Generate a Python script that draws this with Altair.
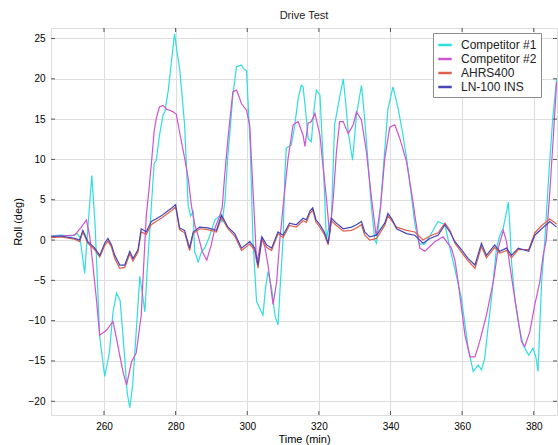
import altair as alt
import pandas as pd

# ---------------- data ----------------
t_c1 = [245, 248, 251, 252.5, 253.3, 254.6, 255.5, 256.6, 257.5, 258.8, 260.2, 261.5, 262.5, 263.5, 264.5,
        265.5, 266.5, 267.2, 268.0, 268.6, 269.5, 270.0, 270.7, 271.4, 272.3, 273.2, 274.0, 274.6, 275.5,
        276.5, 277.0, 277.9, 278.8, 279.7, 280.5, 281.1, 281.8, 282.5, 283.5, 284.2, 284.9, 285.3, 286.3,
        287.2, 288.1, 289.5, 291.0, 292.3, 293.0, 293.8, 294.5, 295.1, 296.0, 297.0, 298.4, 299.0, 299.8,
        300.8, 301.6, 302.6, 303.5, 304.4, 305.1, 305.8, 306.8, 307.8, 308.6, 309.3, 310.0, 310.5, 310.9,
        312.3, 313.2, 314.2, 315.1, 315.6, 316.3, 317.0, 317.9, 318.6, 319.3, 320.3, 321.2, 322.1, 322.5,
        323.5, 324.4, 325.5, 326.8, 327.5, 328.2, 329.4, 330.5, 331.9, 332.6, 333.3, 334.5, 335.6, 336.1,
        337.0, 338.2, 339.3, 340.7, 342.1, 343.3, 344.5, 345.7, 346.8, 348.0, 349.5, 351.0, 353.3, 355.2,
        356.6, 358.2, 359.8, 361.7, 363.1, 364.5, 365.4, 366.3, 367.2, 368.2, 369.6, 370.5, 371.5, 372.4,
        372.9, 373.3, 373.8, 374.7, 375.8, 377.0, 378.6, 379.8, 380.6, 381.2, 382.2, 383.1, 384.2, 385.3,
        386.4]
v_c1 = [0.5, 0.6, 0.5, 0.8, 0.3, -4.1, 1.5, 8.0, 2.0, -12.0, -16.9, -14.0, -9.0, -6.6, -7.5,
        -13.0, -19.0, -20.8, -18.0, -14.0, -8.0, -4.5, -6.5, -8.9, -2.0, 4.0, 9.5, 9.9, 13.0,
        15.5, 15.9, 18.4, 22.0, 25.6, 23.0, 21.3, 18.0, 14.3, 4.3, 3.0, 3.5, -1.4, -2.7,
        -1.5, -1.0, 0.5, 2.5, 3.0, 2.2, 5.0, 10.0, 13.0, 18.0, 21.5, 21.7, 21.2, 21.0,
        12.0, 0.0, -7.6, -8.5, -9.3, -6.0, -3.9, -6.0, -9.5, -10.5, -5.0, 0.0, 8.0, 11.4,
        11.8, 14.0, 17.5, 19.2, 19.0, 16.0, 12.6, 12.2, 16.0, 18.6, 18.0, 10.0, 0.0, 1.0,
        2.7, 14.3, 17.0, 20.0, 17.0, 13.4, 9.9, 15.5, 19.2, 16.0, 12.2, 5.0, 0.0, -0.4,
        3.0, 10.0, 16.3, 19.0, 16.4, 13.5, 10.1, 6.0, 2.0, -0.5, -0.5, 0.5, 2.3, 1.9,
        -1.0, -4.0, -7.2, -13.4, -16.3, -15.5, -16.1, -14.7, -11.0, -7.2, -1.0, 0.5, 1.5, 3.5,
        4.7, 2.0, -2.7, -7.2, -10.5, -13.0, -14.3, -13.4, -14.5, -16.3, -5.2, 0.0, 8.0, 15.0,
        20.0]

t_c2 = [245, 248, 251.8, 253.5, 255.1, 256.0, 256.9, 257.8, 258.8, 260.7, 262.5, 263.4, 264.4, 265.4,
        266.3, 267.7, 269.0, 270.4, 271.1, 271.8, 272.5, 273.2, 274.0, 274.6, 275.5, 276.5, 277.5, 278.4,
        279.3, 280.2, 281.1, 282.5, 283.5, 284.4, 285.3, 286.3, 287.5, 288.7, 290.0, 291.0, 292.3, 293.0,
        293.7, 294.4, 295.1, 296.0, 297.0, 297.7, 298.4, 299.8, 300.7, 301.4, 302.1, 302.6, 303.3, 304.0,
        305.0, 305.8, 306.5, 307.2, 308.2, 309.1, 310.2, 311.4, 312.8, 314.2, 315.6, 316.1, 317.0, 317.9,
        318.9, 320.3, 321.2, 322.1, 323.0, 324.0, 324.9, 325.8, 326.8, 328.2, 329.6, 330.5, 331.9, 333.3,
        334.7, 336.0, 337.2, 338.4, 339.8, 341.2, 342.6, 344.5, 346.3, 346.8, 348.2, 349.6, 351.0, 352.4,
        354.7, 357.0, 358.0, 358.9, 360.8, 362.2, 363.6, 364.9, 366.8, 368.7, 370.1, 371.5, 372.4, 373.3,
        374.7, 376.6, 377.5, 378.9, 380.3, 381.7, 382.6, 383.5, 384.5, 385.5, 386.4]
v_c2 = [0.5, 0.5, 0.6, 1.5, 2.5, 0.5, -3.1, -7.0, -11.8, -11.2, -10.1, -12.0, -14.3, -16.5,
        -18.0, -15.1, -14.0, -9.3, -3.0, 3.0, 6.0, 9.3, 13.5, 15.1, 16.5, 16.7, 16.2, 16.1,
        15.9, 15.6, 13.4, 10.2, 7.7, 4.3, 2.0, 0.5, -1.5, -2.5, -0.5, 1.5, 3.0, 4.0,
        8.0, 11.5, 14.7, 18.4, 18.6, 17.8, 16.9, 16.1, 14.2, 8.0, 2.0, -2.7, -1.5, 0.4,
        -1.0, -3.1, -5.5, -8.0, -5.2, 0.0, 5.0, 10.1, 14.3, 14.7, 13.0, 11.6, 14.5, 14.7,
        15.7, 13.0, 9.0, 5.2, 0.7, 5.0, 10.9, 14.7, 14.7, 13.2, 14.3, 15.9, 14.9, 10.9,
        5.2, 0.5, 4.0, 10.1, 14.0, 14.3, 12.6, 9.7, 4.7, 3.1, -1.0, -1.4, -0.8, -0.2,
        0.4, -1.0, -2.5, -5.2, -11.8, -14.5, -14.5, -12.6, -9.3, -5.2, -1.0, 1.2, -0.2, -3.1,
        -7.2, -12.6, -13.2, -11.4, -8.0, -5.2, -2.0, 0.0, 6.0, 13.0, 19.6]

t_ins = [245, 248, 251.8, 253.2, 254.1, 255.5, 256.5, 257.4, 258.8, 260.2, 261.1, 262.1, 263.0, 264.4,
         265.8, 267.2, 268.1, 269.5, 270.4, 271.8, 273.2, 274.5, 276.0, 277.5, 279.0, 280.0, 281.1, 282.5,
         283.9, 284.9, 286.7, 289.0, 291.4, 292.8, 294.6, 296.5, 298.4, 300.7, 302.1, 303.0, 304.1, 305.4,
         306.8, 308.6, 310.0, 311.8, 313.7, 315.6, 316.5, 317.5, 318.3, 319.2, 320.3, 321.5, 322.6, 323.5,
         324.9, 326.8, 329.1, 330.5, 331.9, 332.8, 334.2, 336.1, 338.4, 339.3, 340.5, 341.7, 344.5, 346.8,
         349.1, 351.0, 353.3, 355.2, 356.6, 358.0, 359.8, 361.7, 363.6, 365.4, 366.8, 369.1, 370.5, 372.4,
         373.8, 375.7, 378.6, 380.3, 382.2, 384.5, 386.4]
v_ln100 = [0.4, 0.5, 0.2, 0.0, 1.2, -0.2, -0.6, -1.0, -1.9, -0.4, 0.2, -0.6, -1.9, -3.1,
           -3.1, -1.4, -2.3, -1.2, 1.4, 1.0, 2.3, 2.6, 3.0, 3.5, 4.0, 4.4, 1.5, 1.2,
           -1.0, 1.0, 1.6, 1.5, 1.2, 3.1, 1.6, 0.8, -1.0, -0.2, -1.0, -3.1, 0.4, -0.6,
           -1.0, 1.0, 0.6, 2.1, 1.9, 2.7, 2.5, 3.6, 4.0, 2.5, 1.9, 1.0, -0.4, 2.7,
           2.1, 1.4, 1.6, 1.9, 2.3, 1.0, 0.4, 0.6, 2.1, 3.3, 2.5, 1.4, 0.8, 0.6,
           -0.4, 0.2, 0.6, 1.9, 1.0, -0.2, -1.2, -2.3, -3.1, -0.4, -1.9, -0.6, -1.4, -1.0,
           -1.9, -1.0, -1.4, 0.6, 1.4, 2.3, 1.6]
v_ahrs = [0.3, 0.4, 0.1, -0.2, 1.0, -0.4, -0.8, -1.2, -2.1, -0.7, -0.1, -0.9, -2.3, -3.5,
          -3.4, -1.7, -2.6, -1.5, 1.0, 0.7, 1.9, 2.3, 2.7, 3.2, 3.7, 4.1, 1.3, 0.9,
          -1.3, 0.8, 1.4, 1.3, 1.0, 2.8, 1.4, 0.5, -1.3, -0.5, -1.3, -3.5, 0.1, -0.9,
          -1.3, 0.8, 0.3, 1.8, 1.6, 2.4, 2.2, 3.3, 3.7, 2.2, 1.6, 0.7, -0.6, 2.4,
          1.8, 1.1, 1.2, 1.5, 1.9, 0.6, 0.0, 0.2, 1.8, 3.0, 2.3, 1.6, 1.2, 1.0,
          0.0, 0.5, 0.9, 2.1, 1.2, -0.4, -1.5, -2.6, -3.5, -0.8, -2.2, -0.9, -1.6, -1.3,
          -2.2, -1.2, -1.2, 0.9, 1.8, 2.6, 2.0]

series_names = ["Competitor #1", "Competitor #2", "AHRS400", "LN-100 INS"]
series_colors = ["#2fdede", "#cf52cf", "#e0604f", "#4646b6"]
x_ticks = [260, 280, 300, 320, 340, 360, 380]
y_ticks = [-20, -15, -10, -5, 0, 5, 10, 15, 20, 25]
x_domain = [245.2, 386.5]
y_domain = [-21.7, 26.3]

# ---------------- build table ----------------
frames = []
for name, t, v in zip(series_names, [t_c1, t_c2, t_ins, t_ins], [v_c1, v_c2, v_ahrs, v_ln100]):
    frames.append(pd.DataFrame({"time": t, "roll": v, "series": name, "idx": list(range(len(t)))}))
df = pd.concat(frames, ignore_index=True)

W, H = 506, 387
FONT = "Liberation Sans"

x_enc = alt.X("time:Q", scale=alt.Scale(domain=x_domain, nice=False, zero=False),
              axis=alt.Axis(values=x_ticks, title="Time (min)", grid=True, ticks=False, domain=False,
                            labelPadding=6, titlePadding=2, format="d", titleFontWeight="normal"))
y_enc = alt.Y("roll:Q", scale=alt.Scale(domain=y_domain, nice=False, zero=False),
              axis=alt.Axis(values=y_ticks, title="Roll (deg)", grid=True, ticks=False, domain=False,
                            labelPadding=6, titlePadding=5, format="d", titleFontWeight="normal"))
color_enc = alt.Color("series:N", scale=alt.Scale(domain=series_names, range=series_colors),
                      legend=alt.Legend(title=None, orient="none", legendX=382, legendY=5,
                                        strokeColor="#8c8c8c", fillColor="white", padding=4,
                                        symbolType="stroke", symbolSize=180, symbolStrokeWidth=2.5,
                                        labelFontSize=12, labelFont=FONT, labelColor="#222",
                                        rowPadding=0, labelOffset=8, labelLimit=200))

base = alt.Chart(df)
layers = []
for name in series_names:
    layers.append(
        base.transform_filter(alt.datum.series == name)
        .mark_line(strokeWidth=1.2, clip=True)
        .encode(x=x_enc, y=y_enc, color=color_enc, order="idx:Q")
    )

xt = pd.DataFrame({"time": x_ticks})
yt = pd.DataFrame({"roll": y_ticks})
tick_col = "#555555"
layers.append(alt.Chart(xt).mark_rule(color=tick_col).encode(x=x_enc, y=alt.value(0), y2=alt.value(4)))
layers.append(alt.Chart(xt).mark_rule(color=tick_col).encode(x=x_enc, y=alt.value(H), y2=alt.value(H - 4)))
layers.append(alt.Chart(yt).mark_rule(color=tick_col).encode(y=y_enc, x=alt.value(0), x2=alt.value(4)))
layers.append(alt.Chart(yt).mark_rule(color=tick_col).encode(y=y_enc, x=alt.value(W - 4), x2=alt.value(W)))

chart = (
    alt.layer(*layers)
    .properties(
        width=W, height=H,
        title=alt.TitleParams("Drive Test", fontSize=11, fontWeight="normal", font=FONT, color="#222", offset=7),
        autosize=alt.AutoSizeParams(type="none"),
        padding={"left": 51, "top": 28, "right": 1, "bottom": 30},
    )
    .configure_view(stroke="#a8a8a8", strokeWidth=1.5)
    .configure_axis(labelFont=FONT, labelFontSize=11, labelColor="#333", titleFont=FONT, titleFontSize=11,
                    titleFontWeight="normal", titleColor="#222", gridColor="#c4c4c4", gridDash=[4, 3],
                    gridWidth=0.8)
    .configure(background="white")
)

chart.save("out.html", embed_options={"renderer": "svg", "actions": False})
